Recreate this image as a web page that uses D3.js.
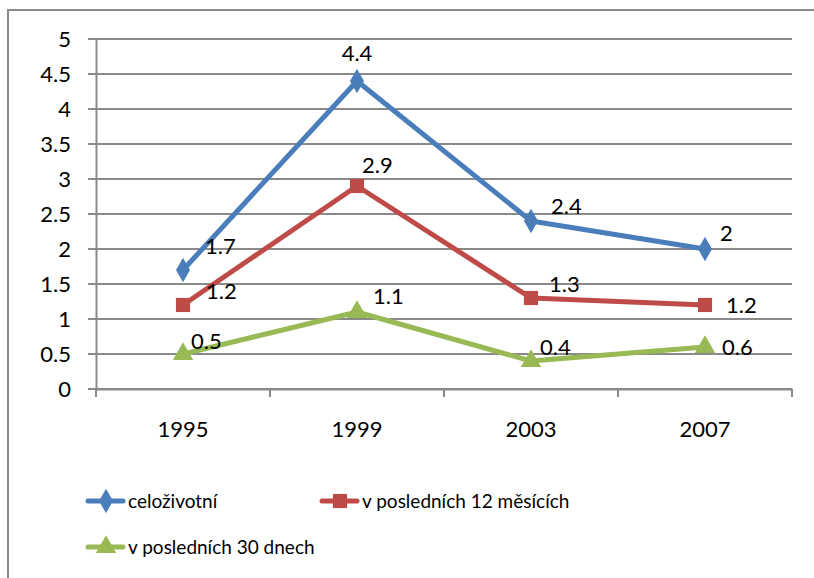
<!DOCTYPE html>
<html>
<head>
<meta charset="utf-8">
<script src="https://cdn.jsdelivr.net/npm/d3@7"></script>
<style>
  body { margin: 0; background: #fff; }
  svg { font-family: Lato, "Noto Sans", sans-serif; }
</style>
</head>
<body>
<svg width="814" height="578"></svg>
<script>
const years = ["1995", "1999", "2003", "2007"];
const celozivotni = [1.7, 4.4, 2.4, 2.0];
const posl12 = [1.2, 2.9, 1.3, 1.2];
const posl30 = [0.5, 1.1, 0.4, 0.6];
const yTicks = [0, 0.5, 1, 1.5, 2, 2.5, 3, 3.5, 4, 4.5, 5];

const series = [
  { name: "celoživotní", values: celozivotni, color: "#4a7ebb", symbol: "diamond" },
  { name: "v posledních 12 měsících", values: posl12, color: "#be4b48", symbol: "square" },
  { name: "v posledních 30 dnech", values: posl30, color: "#98b954", symbol: "triangle" }
];

// label nudges (dx, dy) from the point, per series / per year
const labelNudge = [
  [[22, -24], [0, -28], [20, -15], [15, -16]],
  [[23, -14], [5, -21], [18, -14], [21, 0]],
  [[8, -13], [16, -16], [9, -14], [17, 0]]
];

const svg = d3.select("svg");
const margin = { top: 39, left: 96, right: 22, bottom: 189 };
const width = 814 - margin.left - margin.right;
const height = 578 - margin.top - margin.bottom;

svg.append("rect")
  .attr("x", 8).attr("y", 10)
  .attr("width", 820).attr("height", 600)
  .attr("fill", "none").attr("stroke", "#8a8a8a").attr("stroke-width", 2);

const g = svg.append("g")
  .attr("transform", `translate(${margin.left},${margin.top})`);

const x = d3.scaleBand().domain(years).range([0, width]);
const y = d3.scaleLinear().domain([0, 5]).range([height, 0]);

// gridlines
g.append("g")
  .selectAll("line")
  .data(yTicks)
  .join("line")
  .attr("x1", -8).attr("x2", width)
  .attr("y1", d => y(d)).attr("y2", d => y(d))
  .attr("stroke", "#8a8a8a").attr("stroke-width", 2);

// y axis
const yAxis = g.append("g")
  .call(d3.axisLeft(y).tickValues(yTicks).tickSize(0).tickPadding(25).tickFormat(d3.format("")));
yAxis.select(".domain").attr("stroke", "#8a8a8a").attr("stroke-width", 2);
yAxis.selectAll("text").attr("font-size", 22).attr("fill", "#000").attr("font-family", "Lato, sans-serif");

// x axis
const xAxis = g.append("g")
  .attr("transform", `translate(0,${height})`)
  .call(d3.axisBottom(x).tickSize(0).tickPadding(32));
xAxis.select(".domain").attr("stroke", "#8a8a8a").attr("stroke-width", 2);
xAxis.selectAll("text").attr("font-size", 22).attr("fill", "#000").attr("font-family", "Lato, sans-serif");
g.append("g")
  .selectAll("line")
  .data(d3.range(years.length + 1))
  .join("line")
  .attr("x1", i => i * x.step()).attr("x2", i => i * x.step())
  .attr("y1", height).attr("y2", height + 8)
  .attr("stroke", "#8a8a8a").attr("stroke-width", 2);

const cx = i => x(years[i]) + x.bandwidth() / 2;

const symbolType = { diamond: d3.symbolDiamond, square: d3.symbolSquare, triangle: d3.symbolTriangle };
const symbolSize = { diamond: 170, square: 200, triangle: 180 };

const line = d3.line()
  .x((d, i) => cx(i))
  .y(d => y(d));

series.forEach((s, si) => {
  g.append("path")
    .datum(s.values)
    .attr("fill", "none")
    .attr("stroke", s.color)
    .attr("stroke-width", 5)
    .attr("stroke-linejoin", "round")
    .attr("d", line);

  g.selectAll(null)
    .data(s.values)
    .join("path")
    .attr("transform", (d, i) => `translate(${cx(i)},${y(d)})`)
    .attr("d", d3.symbol().type(symbolType[s.symbol]).size(symbolSize[s.symbol]))
    .attr("fill", s.color);

  g.selectAll(null)
    .data(s.values)
    .join("text")
    .attr("x", (d, i) => cx(i) + labelNudge[si][i][0])
    .attr("y", (d, i) => y(d) + labelNudge[si][i][1])
    .attr("dy", "0.35em")
    .attr("text-anchor", (d, i) => (si === 0 && i === 1) ? "middle" : "start")
    .attr("font-size", 22)
    .text(d => d3.format("")(d));
});

// legend
const legendPos = [[88, 501], [322, 501], [88, 547]];
series.forEach((s, si) => {
  const lg = svg.append("g").attr("transform", `translate(${legendPos[si][0]},${legendPos[si][1]})`);
  lg.append("line")
    .attr("x1", 0).attr("x2", 35)
    .attr("stroke", s.color).attr("stroke-width", 5).attr("stroke-linecap", "round");
  lg.append("path")
    .attr("transform", "translate(18,0)")
    .attr("d", d3.symbol().type(symbolType[s.symbol]).size(symbolSize[s.symbol]))
    .attr("fill", s.color);
  lg.append("text")
    .attr("x", 40).attr("dy", "0.35em")
    .attr("font-size", 19)
    .text(s.name);
});
</script>
</body>
</html>
